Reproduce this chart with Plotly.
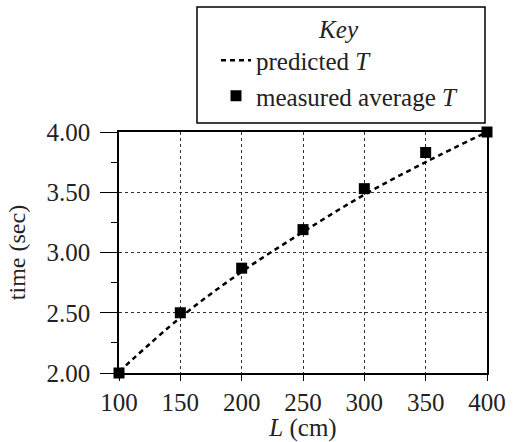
import plotly.graph_objects as go

# Pendulum length (cm) and periods (s)
lengths = [100, 150, 200, 250, 300, 350, 400]
predicted_T = [2.01, 2.46, 2.84, 3.17, 3.48, 3.75, 4.00]
measured_T = [2.00, 2.50, 2.87, 3.19, 3.53, 3.83, 4.00]
y_ticks = [2.0, 2.5, 3.0, 3.5, 4.0]
x_ticks = [100, 150, 200, 250, 300, 350, 400]

SERIF = "Liberation Serif"
INK = "#222"
W, H = 513, 442
ML, MR, MT, MB = 119, 26, 132, 69
PW, PH = W - ML - MR, H - MT - MB

fig = go.Figure()
fig.add_trace(go.Scatter(
    x=lengths, y=predicted_T, mode="lines", name="predicted <i>T</i>",
    line=dict(color="black", width=2.5, dash="5px,4px", shape="spline"),
    legendgroup="pred", cliponaxis=False,
))
fig.add_trace(go.Scatter(
    x=lengths, y=measured_T, mode="markers", name="measured average <i>T</i>",
    marker=dict(symbol="square", size=11, color="black"),
    legendgroup="meas", cliponaxis=False,
))

axis_common = dict(
    showline=True, linecolor="black", linewidth=1.5, mirror=True,
    ticks="outside", tickcolor="black",
    tickfont=dict(family=SERIF, size=25, color=INK),
    showgrid=True, gridcolor="#333", griddash="dot", gridwidth=1,
    zeroline=False, automargin=False,
)

fig.update_xaxes(
    range=[100, 400], tickvals=x_ticks, ticklen=6, tickwidth=1.2,
    title=dict(text="<i>L</i> (cm)", font=dict(family=SERIF, size=25, color=INK), standoff=0),
    **axis_common,
)
fig.update_yaxes(
    range=[2, 4], tickvals=y_ticks, tickformat=".2f", ticklen=17, tickwidth=1.2,
    ticklabelstandoff=5,
    minor=dict(dtick=0.25, ticklen=6, tickcolor="black", tickwidth=1.2, showgrid=False, ticks="outside"),
    title=dict(text="time (sec)", font=dict(family=SERIF, size=24, color=INK), standoff=14),
    **axis_common,
)

# Key box (pixel edges converted to paper fractions)
fig.add_shape(type="rect", xref="paper", yref="paper",
              x0=(197 - ML) / PW, x1=(485 - ML) / PW,
              y0=(H - MB - 123) / PH, y1=(H - MB - 7) / PH,
              line=dict(color="black", width=1.5), fillcolor="white", layer="below")

fig.update_layout(
    width=W, height=H,
    margin=dict(l=ML, r=MR, t=MT, b=MB, autoexpand=False),
    paper_bgcolor="white", plot_bgcolor="white",
    font=dict(family=SERIF, color=INK),
    showlegend=True,
    legend=dict(
        title=dict(text="<i>Key</i>", side="top center", font=dict(family=SERIF, size=25)),
        x=(216 - ML) / PW, y=(H - MB - 5) / PH, xanchor="left", yanchor="top",
        font=dict(family=SERIF, size=25, color=INK),
        bgcolor="rgba(0,0,0,0)", borderwidth=0, tracegroupgap=0,
    ),
)

fig.write_html("out.html")
